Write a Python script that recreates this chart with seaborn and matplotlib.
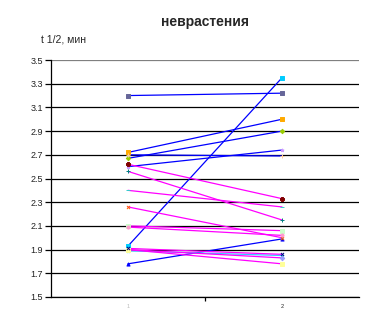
import matplotlib
matplotlib.use("Agg")
import matplotlib.pyplot as plt
import seaborn as sns
import pandas as pd

# t 1/2 per patient: measurement 1 and measurement 2
visits = [1, 2]
before = [3.20, 1.93, 2.72, 2.67, 2.60, 2.70, 1.78,
          2.62, 2.56, 2.40, 2.26, 2.10, 2.09, 1.89, 1.90, 1.90, 1.91]
after = [3.22, 3.35, 3.00, 2.90, 2.74, 2.69, 1.99,
         2.33, 2.15, 2.26, 2.00, 2.06, 2.02, 1.85, 1.83, 1.78, 1.86]
line_colors = ["#0000FF"] * 7 + ["#FF00FF"] * 6 + ["#33CCFF"] + ["#FF00FF"] * 3
marker_colors = ["#666699", "#00CCFF", "#FFAA00", "#99CC00", "#CC99FF", "#FFCC99",
                 "#0000FF", "#800000", "#008080", "#33CCCC", "#FF6600", "#CCFFCC",
                 "#FF99CC", "#00FFFF", "#9999FF", "#FFFF99", "#000080"]
marker_shapes = ["s", "s", "s", "D", "*", "+", "^", "P", "+", "_", "x", "s",
                 "o", "x", "D", "s", "x"]
yticks = [1.5, 1.7, 1.9, 2.1, 2.3, 2.5, 2.7, 2.9, 3.1, 3.3, 3.5]

ids = [f"p{i}" for i in range(len(before))]
df = pd.DataFrame({
    "id": ids * 2,
    "visit": [visits[0]] * len(ids) + [visits[1]] * len(ids),
    "t": before + after,
})

sns.set_style("white")
plt.rcParams["font.family"] = ["Liberation Sans", "DejaVu Sans"]

fig = plt.figure(figsize=(3.68, 3.24), dpi=100)
ax = fig.add_axes([51 / 368, 1 - 297 / 324, 308 / 368, 237 / 324])

for y in yticks:
    ax.axhline(y, color="black" if y < 3.5 else "#808080", lw=0.9, zorder=0)

sns.lineplot(data=df, x="visit", y="t", hue="id", palette=dict(zip(ids, line_colors)),
             legend=False, lw=0.9, ax=ax, zorder=2)
for pid, mc, ms in zip(ids, marker_colors, marker_shapes):
    sub = df[df["id"] == pid]
    sns.scatterplot(data=sub, x="visit", y="t", color=mc, marker=ms, s=5,
                    linewidth=0.7, edgecolor=mc, legend=False, ax=ax, zorder=3)

ax.set_xlim(0.5, 2.5)
ax.set_ylim(1.5, 3.5)
ax.set_yticks(yticks)
ax.set_yticklabels([f"{v:.1f}" for v in yticks], fontsize=6.5, color="#222222")
ax.set_xticks([1, 2])
ax.set_xticklabels(["1", "2"], fontsize=4)
ax.get_xticklabels()[0].set_color("#BBBBBB")
ax.get_xticklabels()[1].set_color("#222222")
ax.tick_params(axis="x", length=0, pad=5)
ax.tick_params(axis="y", length=4, width=0.9, color="black", pad=2, left=True)
ax.set_xticks([1.5], minor=True)
ax.tick_params(axis="x", which="minor", length=3, width=0.9, color="black", bottom=True)
ax.set_xlabel("")
ax.set_ylabel("")
for side in ["top", "right"]:
    ax.spines[side].set_visible(False)
for side in ["left", "bottom"]:
    ax.spines[side].set_color("black")
    ax.spines[side].set_linewidth(0.9)

fig.text(205 / 368, 1 - 22 / 324, "неврастения", ha="center", va="center",
         fontsize=10, fontweight="bold")
fig.text(41 / 368, 1 - 40 / 324, "t 1/2, мин", ha="left", va="center", fontsize=7.5)

fig.savefig("out.png", dpi=100)
